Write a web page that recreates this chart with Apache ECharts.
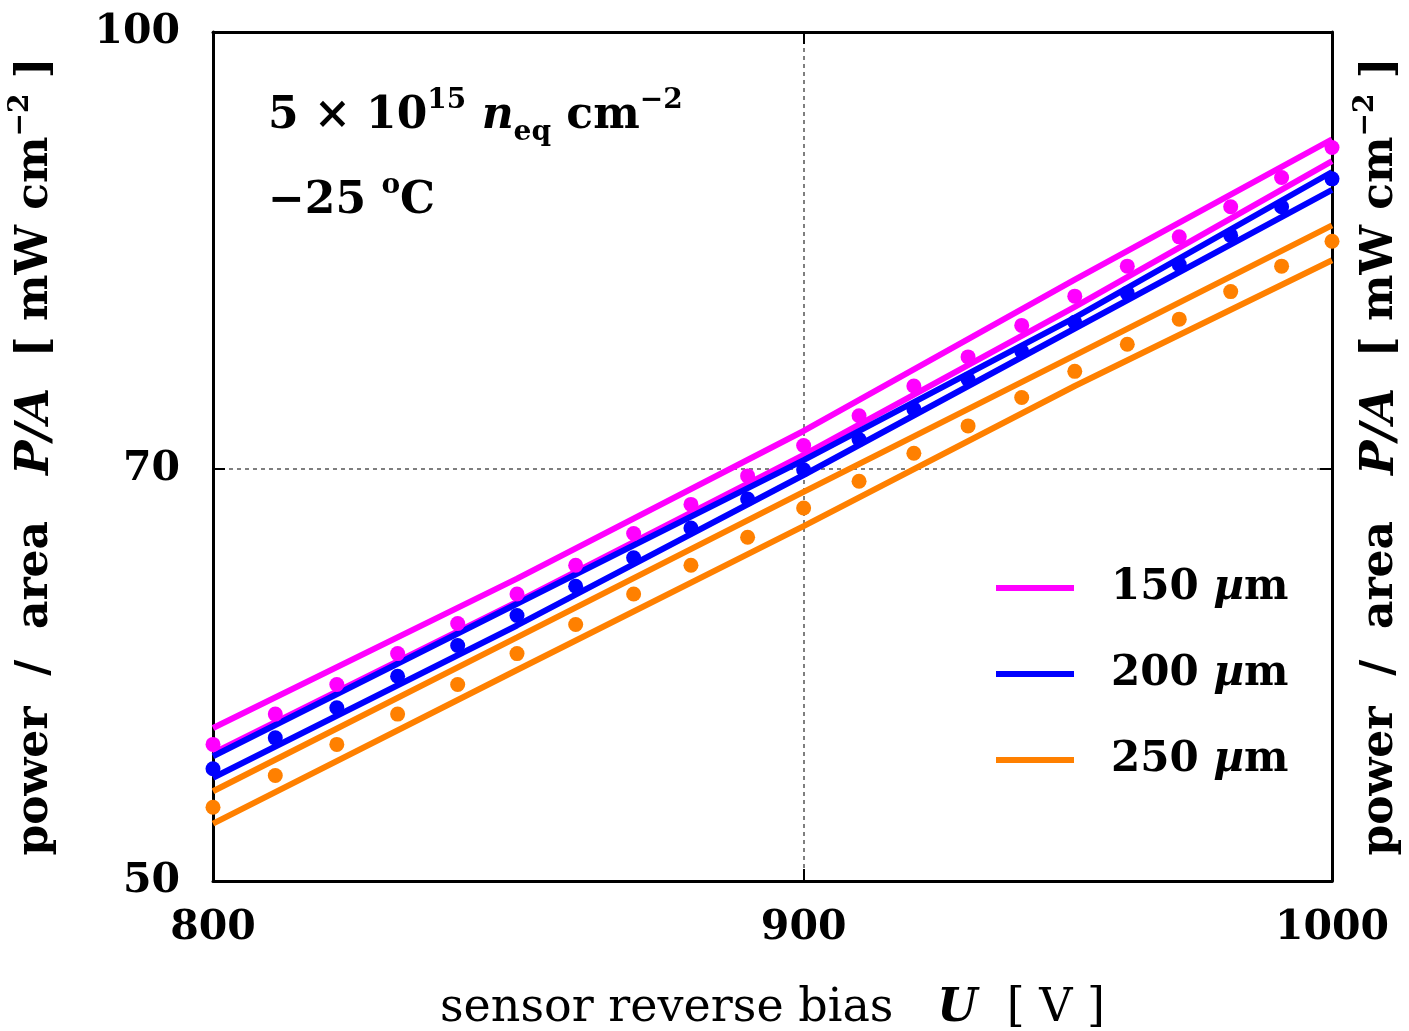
<!DOCTYPE html>
<html>
<head>
<meta charset="utf-8">
<script src="https://cdn.jsdelivr.net/npm/echarts@6/dist/echarts.min.js"></script>
<style>
  html, body { margin: 0; padding: 0; background: #ffffff; }
  #chart { width: 1409px; height: 1031px; }
</style>
</head>
<body>
<div id="chart"></div>
<script>
// Bias voltages of the measured points [V]
const voltage = [800, 810, 820, 830, 840, 850, 860, 870, 880, 890, 900,
                 910, 920, 930, 940, 950, 960, 970, 980, 990, 1000];

// Measured power per area [mW cm^-2]
const dots150 = [55.9, 57.3, 58.7, 60.2, 61.7, 63.2, 64.7, 66.4, 68.0, 69.6, 71.35,
                 73.1, 74.9, 76.7, 78.7, 80.6, 82.6, 84.6, 86.7, 88.8, 91.0];
const dots200 = [54.8, 56.2, 57.6, 59.1, 60.6, 62.1, 63.6, 65.1, 66.7, 68.3, 69.95,
                 71.7, 73.5, 75.3, 77.05, 78.9, 80.8, 82.7, 84.7, 86.7, 88.7];
const dots250 = [53.1, 54.5, 55.9, 57.3, 58.7, 60.2, 61.65, 63.2, 64.7, 66.2, 67.8,
                 69.3, 70.9, 72.5, 74.2, 75.8, 77.5, 79.1, 80.9, 82.6, 84.3];

// Upper / lower band of the model curves
const bandVoltage = [800, 850, 900, 950, 1000];
const upper150 = [56.65, 64.0, 72.2, 81.7, 91.6];
const lower150 = [55.5, 62.8, 70.8, 79.9, 90.0];
const upper200 = [55.36, 62.7, 70.5, 79.2, 89.2];
const lower200 = [54.4, 61.6, 69.65, 78.5, 87.9];
const upper250 = [53.8, 61.0, 68.7, 76.8, 85.4];
const lower250 = [52.4, 59.4, 66.8, 74.9, 83.0];

const thicknessNames = ['150 µm', '200 µm', '250 µm'];
const thicknessColors = ['#ff00ff', '#0000ff', '#ff8000'];

// Axis ticks
const xLabelValues = [800, 900, 1000];
const xGridValues = [900];
const yLabelValues = [50, 70, 100];
const yGridValues = [70];

const FONT = "'DejaVu Serif', serif";

function pairs(xs, ys) {
  return xs.map(function (x, i) { return [x, ys[i]]; });
}

const groups = [
  { upper: upper150, lower: lower150, dots: dots150 },
  { upper: upper200, lower: lower200, dots: dots200 },
  { upper: upper250, lower: lower250, dots: dots250 }
];

const series = [];
groups.forEach(function (g, k) {
  const name = thicknessNames[k];
  const color = thicknessColors[k];
  [g.upper, g.lower].forEach(function (band) {
    series.push({
      type: 'line',
      name: name,
      data: pairs(bandVoltage, band),
      symbol: 'none',
      showSymbol: false,
      lineStyle: { color: color, width: 6, cap: 'butt' },
      itemStyle: { color: color },
      emphasis: { disabled: true },
      z: 2
    });
  });
  series.push({
    type: 'scatter',
    name: name,
    data: pairs(voltage, g.dots),
    symbol: 'circle',
    symbolSize: 15,
    itemStyle: { color: color, opacity: 1 },
    emphasis: { disabled: true },
    clip: false,
    z: 3
  });
});

const frameLine = { show: true, onZero: false, lineStyle: { color: '#000', width: 3 } };
const gridDots = { show: true, lineStyle: { color: '#555', width: 1.5, type: [4, 4] } };
const tickLabel = { color: '#000', fontFamily: FONT, fontSize: 41, fontWeight: 'bold' };

const nameRich = {
  t: { fontFamily: FONT, fontSize: 44, fontWeight: 'bold', color: '#000', lineHeight: 58 },
  i: { fontFamily: FONT, fontSize: 46, fontWeight: 'bold', fontStyle: 'italic', color: '#000', lineHeight: 58 },
  s: { fontFamily: FONT, fontSize: 28, fontWeight: 'bold', color: '#000', lineHeight: 28, verticalAlign: 'top' }
};
const yName = '{t|power  /  area}   {i|P/A}  {t|[ mW cm}{s|−2}{t| ]}';
const yNameStyle = { fontFamily: FONT, fontSize: 44, fontWeight: 'bold', color: '#000', lineHeight: 58, rich: nameRich };

const annotRich = {
  t: { fontFamily: FONT, fontSize: 44, fontWeight: 'bold', fill: '#000', lineHeight: 60 },
  i: { fontFamily: FONT, fontSize: 44, fontWeight: 'bold', fontStyle: 'italic', fill: '#000', lineHeight: 60 },
  s: { fontFamily: FONT, fontSize: 28, fontWeight: 'bold', fill: '#000', lineHeight: 30, verticalAlign: 'top' },
  sub: { fontFamily: FONT, fontSize: 28, fontWeight: 'bold', fill: '#000', lineHeight: 40, verticalAlign: 'bottom' }
};

const chart = echarts.init(document.getElementById('chart'), null, { renderer: 'canvas' });
chart.setOption({
  animation: false,
  backgroundColor: '#ffffff',
  grid: { left: 213, top: 32, width: 1119, height: 849, containLabel: false, outerBoundsMode: 'none' },
  xAxis: [
    {
      type: 'log', logBase: 10, min: 800, max: 1000, position: 'bottom',
      axisLine: frameLine,
      axisTick: { show: true, inside: true, length: 12, customValues: xGridValues, lineStyle: { color: '#000', width: 2 } },
      axisLabel: Object.assign({ customValues: xLabelValues, margin: 27, formatter: function (v) { return String(v); } }, tickLabel),
      splitLine: gridDots,
      name: 'sensor reverse bias   {i|U}  [ V ]',
      nameLocation: 'middle',
      nameGap: 103,
      nameMoveOverlap: false,
      nameTextStyle: {
        fontFamily: FONT, fontSize: 46, color: '#000', lineHeight: 50,
        rich: { i: { fontFamily: FONT, fontSize: 46, fontStyle: 'italic', fontWeight: 'bold', color: '#000', lineHeight: 50 } }
      }
    },
    {
      type: 'log', logBase: 10, min: 800, max: 1000, position: 'top',
      axisLine: frameLine,
      axisTick: { show: true, inside: true, length: 12, customValues: xGridValues, lineStyle: { color: '#000', width: 2 } },
      axisLabel: { show: false },
      splitLine: { show: false }
    }
  ],
  yAxis: [
    {
      type: 'log', logBase: 10, min: 50, max: 100, position: 'left',
      axisLine: frameLine,
      axisTick: { show: true, inside: true, length: 12, customValues: yGridValues, lineStyle: { color: '#000', width: 2 } },
      axisLabel: Object.assign({ customValues: yLabelValues, margin: 33, formatter: function (v) { return String(v); } }, tickLabel),
      splitLine: gridDots,
      name: yName,
      nameLocation: 'middle',
      nameRotate: 90,
      nameGap: 148,
      nameMoveOverlap: false,
      nameTextStyle: yNameStyle
    },
    {
      type: 'log', logBase: 10, min: 50, max: 100, position: 'right',
      axisLine: frameLine,
      axisTick: { show: true, inside: true, length: 12, customValues: yGridValues, lineStyle: { color: '#000', width: 2 } },
      axisLabel: { show: false },
      splitLine: { show: false },
      name: yName,
      nameLocation: 'middle',
      nameRotate: 90,
      nameGap: 20,
      nameMoveOverlap: false,
      nameTextStyle: yNameStyle
    }
  ],
  legend: {
    data: thicknessNames,
    orient: 'vertical',
    left: 991,
    top: 562,
    icon: 'rect',
    itemWidth: 78,
    itemHeight: 6,
    itemGap: 44,
    selectedMode: false,
    formatter: function (name) {
      const num = name.split(' ')[0];
      return num + ' {mu|µ}m';
    },
    textStyle: {
      fontFamily: FONT, fontSize: 42, fontWeight: 'bold', color: '#000', lineHeight: 40,
      padding: [0, 0, 0, 32],
      rich: { mu: { fontFamily: FONT, fontSize: 42, fontWeight: 'bold', fontStyle: 'italic', color: '#000', lineHeight: 40 } }
    }
  },
  graphic: [
    {
      type: 'text', left: 268, top: 87, silent: true,
      style: { text: '{t|5 × 10}{s|15}{i| n}{sub|eq}{t| cm}{s|−2}', rich: annotRich, fill: '#000' }
    },
    {
      type: 'text', left: 268, top: 172, silent: true,
      style: { text: '{t|−25 }{s|o}{t|C}', rich: annotRich, fill: '#000' }
    }
  ],
  series: series
});
</script>
</body>
</html>
